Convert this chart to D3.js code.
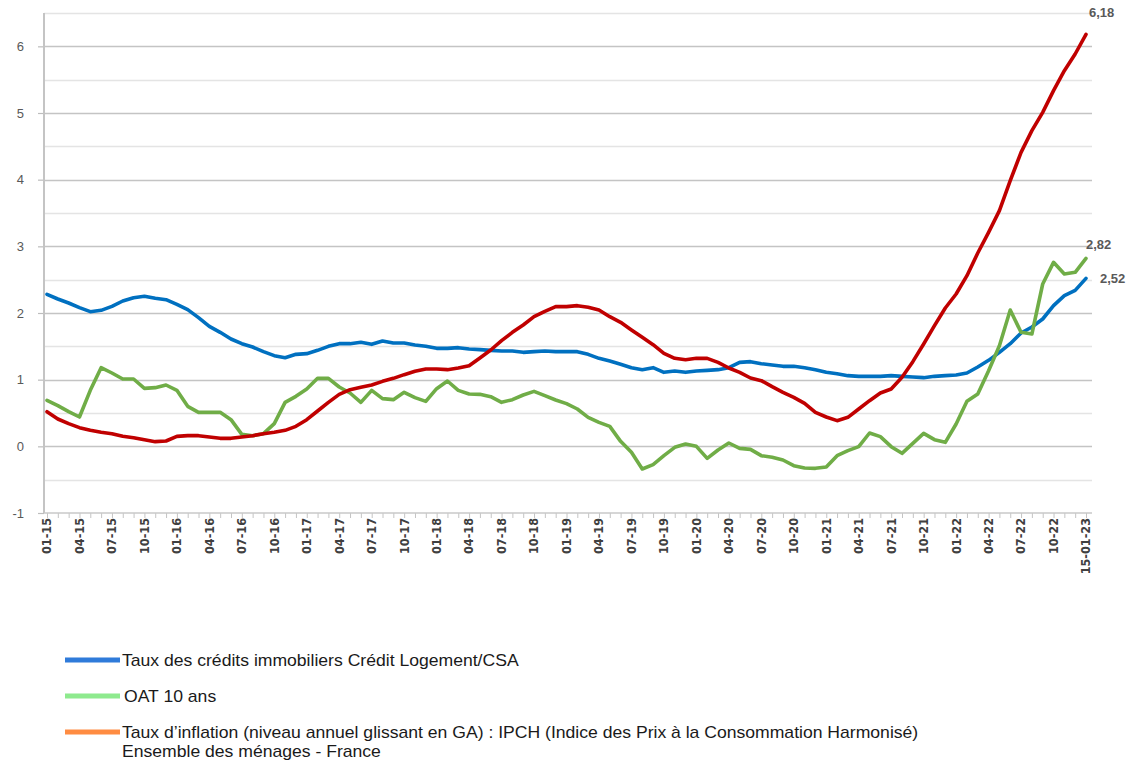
<!DOCTYPE html>
<html>
<head>
<meta charset="utf-8">
<script src="https://cdn.jsdelivr.net/npm/d3@7"></script>
<style>
  body { margin: 0; background: #fff; }
  svg { display: block; }
</style>
</head>
<body>
<svg id="chart" width="1134" height="761"></svg>
<script>
// Monthly series, 01-2015 -> 15-01-2023 (97 points)
const creditRates = [
  2.28, 2.21, 2.15, 2.08, 2.02, 2.04, 2.10, 2.18, 2.23, 2.25,
  2.22, 2.20, 2.13, 2.05, 1.93, 1.80, 1.71, 1.61, 1.54, 1.49,
  1.42, 1.36, 1.33, 1.38, 1.39, 1.44, 1.50, 1.54, 1.54, 1.56,
  1.53, 1.58, 1.55, 1.55, 1.52, 1.50, 1.47, 1.47, 1.48, 1.46,
  1.45, 1.44, 1.43, 1.43, 1.41, 1.42, 1.43, 1.42, 1.42, 1.42,
  1.38, 1.32, 1.28, 1.23, 1.18, 1.15, 1.18, 1.11, 1.13, 1.11,
  1.13, 1.14, 1.15, 1.18, 1.26, 1.27, 1.24, 1.22, 1.20, 1.20,
  1.18, 1.15, 1.11, 1.09, 1.06, 1.05, 1.05, 1.05, 1.06, 1.05,
  1.04, 1.03, 1.05, 1.06, 1.07, 1.10, 1.19, 1.29, 1.41, 1.54,
  1.70, 1.79, 1.91, 2.11, 2.26, 2.34, 2.52
];

const oat10 = [
  0.69, 0.61, 0.52, 0.44, 0.84, 1.18, 1.10, 1.01, 1.01, 0.87,
  0.88, 0.92, 0.84, 0.60, 0.51, 0.51, 0.51, 0.40, 0.18, 0.16,
  0.19, 0.34, 0.66, 0.75, 0.86, 1.02, 1.02, 0.89, 0.80, 0.66,
  0.84, 0.715, 0.70, 0.81, 0.73, 0.675, 0.865, 0.98, 0.84, 0.785,
  0.78, 0.745, 0.66, 0.70, 0.77, 0.825, 0.76, 0.695,
  0.64, 0.56, 0.435, 0.36, 0.30, 0.075, -0.09, -0.34, -0.275, -0.14,
  -0.015, 0.035, 0.0, -0.18, -0.055, 0.05, -0.03, -0.045, -0.14, -0.165,
  -0.205, -0.29, -0.325, -0.33, -0.31,
  -0.14, -0.065, -0.005, 0.20, 0.145, -0.005, -0.105, 0.045, 0.195, 0.10,
  0.06, 0.335, 0.675, 0.785, 1.135, 1.51, 2.045, 1.71, 1.685, 2.435,
  2.76, 2.585, 2.61, 2.82
];

const inflation = [
  0.52, 0.41, 0.34, 0.28, 0.24, 0.21, 0.19, 0.15, 0.13, 0.10,
  0.07, 0.08, 0.15, 0.16, 0.16, 0.14, 0.12, 0.12, 0.14, 0.16,
  0.19, 0.21, 0.24, 0.30, 0.40, 0.53, 0.66, 0.78, 0.85, 0.885,
  0.92, 0.975, 1.02, 1.075, 1.125, 1.16, 1.16, 1.15, 1.175, 1.21,
  1.325, 1.445, 1.585, 1.71, 1.82, 1.945, 2.025, 2.095,
  2.095, 2.11, 2.085, 2.045, 1.945, 1.86, 1.745, 1.635, 1.525, 1.395, 1.32, 1.30,
  1.32, 1.32, 1.26, 1.175, 1.11, 1.025, 0.985, 0.895, 0.81, 0.735, 0.645, 0.51, 0.44,
  0.385, 0.435, 0.56, 0.685, 0.80, 0.86, 1.035, 1.27, 1.535, 1.81, 2.075, 2.285, 2.56,
  2.9, 3.21, 3.535, 3.985, 4.41, 4.735, 5.01, 5.335, 5.635, 5.885, 6.18
];

// one label every quarter (every 3rd month)
const tickLabels = [
  "01-15", "04-15", "07-15", "10-15", "01-16", "04-16", "07-16", "10-16",
  "01-17", "04-17", "07-17", "10-17", "01-18", "04-18", "07-18", "10-18",
  "01-19", "04-19", "07-19", "10-19", "01-20", "04-20", "07-20", "10-20",
  "01-21", "04-21", "07-21", "10-21", "01-22", "04-22", "07-22", "10-22",
  "15-01-23"
];

const yTicks = [-1, 0, 1, 2, 3, 4, 5, 6];

const endLabels = ["6,18", "2,82", "2,52"];

const legendLabels = [
  ["Taux des crédits immobiliers Crédit Logement/CSA"],
  ["OAT 10 ans"],
  ["Taux d\u2019inflation (niveau annuel glissant en GA) : IPCH (Indice des Prix à la Consommation Harmonisé)",
   "Ensemble des ménages - France"]
];

const svg = d3.select("#chart");

const plot = { left: 44, right: 1092, top: 13, bottom: 513 };

const x = d3.scaleLinear()
  .domain([0, inflation.length - 1])
  .range([47, 1086]);

const y = d3.scaleLinear()
  .domain([-1, 6.5])
  .range([plot.bottom, plot.top]);

svg.append("rect")
  .attr("width", 1134).attr("height", 761)
  .attr("fill", "#fff");

// gridlines every 0.5, integer ones a bit darker
const gridVals = d3.range(-0.5, 6.51, 0.5);
svg.append("g")
  .selectAll("line")
  .data(gridVals)
  .join("line")
  .attr("x1", plot.left)
  .attr("x2", plot.right)
  .attr("y1", d => Math.round(y(d)) + 0.5)
  .attr("y2", d => Math.round(y(d)) + 0.5)
  .attr("stroke", d => Number.isInteger(d) ? "#c4c4c4" : "#e4e4e4")
  .attr("stroke-width", 1.5);

// y axis
const yAxis = d3.axisLeft(y)
  .tickValues(yTicks)
  .tickSize(6)
  .tickPadding(14)
  .tickFormat(d => String(d));

const yG = svg.append("g")
  .attr("transform", `translate(${plot.left},0)`)
  .call(yAxis);
yG.select(".domain").remove();
yG.selectAll(".tick line").attr("stroke", "#bdbdbd").attr("stroke-width", 1.2);
yG.selectAll(".tick text")
  .attr("fill", "#595959")
  .style("font-family", "'Liberation Sans', Arial, sans-serif")
  .style("font-size", "13px");

svg.append("line")
  .attr("x1", plot.left).attr("x2", plot.left)
  .attr("y1", plot.top).attr("y2", plot.bottom)
  .attr("stroke", "#c4c4c4").attr("stroke-width", 2);

// x axis: a tick every month, a label every quarter
const xAxis = d3.axisBottom(x)
  .tickValues(d3.range(0, inflation.length))
  .tickSize(5)
  .tickFormat("");

const xG = svg.append("g")
  .attr("transform", `translate(0,${plot.bottom})`)
  .call(xAxis);
xG.select(".domain").remove();
xG.selectAll(".tick line").attr("stroke", "#c4c4c4").attr("stroke-width", 1);

svg.append("line")
  .attr("x1", plot.left).attr("x2", plot.right)
  .attr("y1", plot.bottom).attr("y2", plot.bottom)
  .attr("stroke", "#c8c8c8").attr("stroke-width", 1.5);

svg.append("g")
  .selectAll("text")
  .data(tickLabels)
  .join("text")
  .attr("transform", (d, i) => `translate(${x(i * 3)},${plot.bottom + 5}) rotate(-90)`)
  .attr("text-anchor", "end")
  .attr("dy", "0.35em")
  .attr("fill", "#404040")
  .style("font-family", "'Liberation Sans Narrow', 'Arial Narrow', 'DejaVu Sans Condensed', sans-serif")
  .style("font-weight", "bold")
  .style("font-size", "12.5px")
  .text(d => d);

// series
const line = d3.line()
  .x((d, i) => x(i))
  .y(d => y(d));

const series = [
  { values: creditRates, color: "#0070C0" },
  { values: oat10, color: "#70AD47" },
  { values: inflation, color: "#C00000" }
];

svg.append("g")
  .selectAll("path")
  .data(series)
  .join("path")
  .attr("d", d => line(d.values))
  .attr("fill", "none")
  .attr("stroke", d => d.color)
  .attr("stroke-width", 3.6)
  .attr("stroke-linejoin", "round")
  .attr("stroke-linecap", "round");

// end value labels
const last = inflation.length - 1;
const endPos = [
  { v: inflation[last], dx: 3, dy: -17 },
  { v: oat10[last], dx: 0, dy: -9 },
  { v: creditRates[last], dx: 14, dy: 5 }
];
svg.append("g")
  .selectAll("text")
  .data(endLabels)
  .join("text")
  .attr("x", (d, i) => x(last) + endPos[i].dx)
  .attr("y", (d, i) => y(endPos[i].v) + endPos[i].dy)
  .attr("fill", "#595959")
  .style("font-family", "'Liberation Sans', Arial, sans-serif")
  .style("font-weight", "bold")
  .style("font-size", "13px")
  .text(d => d);

// legend
const legendColors = ["#2F7BDA", "#8EEA8E", "#FF8C42"];
const legendY = [660, 696, 732];
const legendTextX = [122, 124, 122];

const legend = svg.append("g");
legend.selectAll("line")
  .data(legendColors)
  .join("line")
  .attr("x1", 65).attr("x2", 120)
  .attr("y1", (d, i) => legendY[i]).attr("y2", (d, i) => legendY[i])
  .attr("stroke", d => d)
  .attr("stroke-width", 5);

legend.selectAll("text")
  .data(legendLabels)
  .join("text")
  .attr("transform", (d, i) => `translate(${legendTextX[i]},${legendY[i] + 5.5}) scale(1.1,1)`)
  .attr("fill", "#1a1a1a")
  .style("font-family", "'Liberation Sans', Arial, sans-serif")
  .style("font-size", "16px")
  .each(function(d) {
    d3.select(this).selectAll("tspan")
      .data(d)
      .join("tspan")
      .attr("x", 0)
      .attr("dy", (t, j) => j === 0 ? 0 : 20)
      .text(t => t);
  });
</script>
</body>
</html>
